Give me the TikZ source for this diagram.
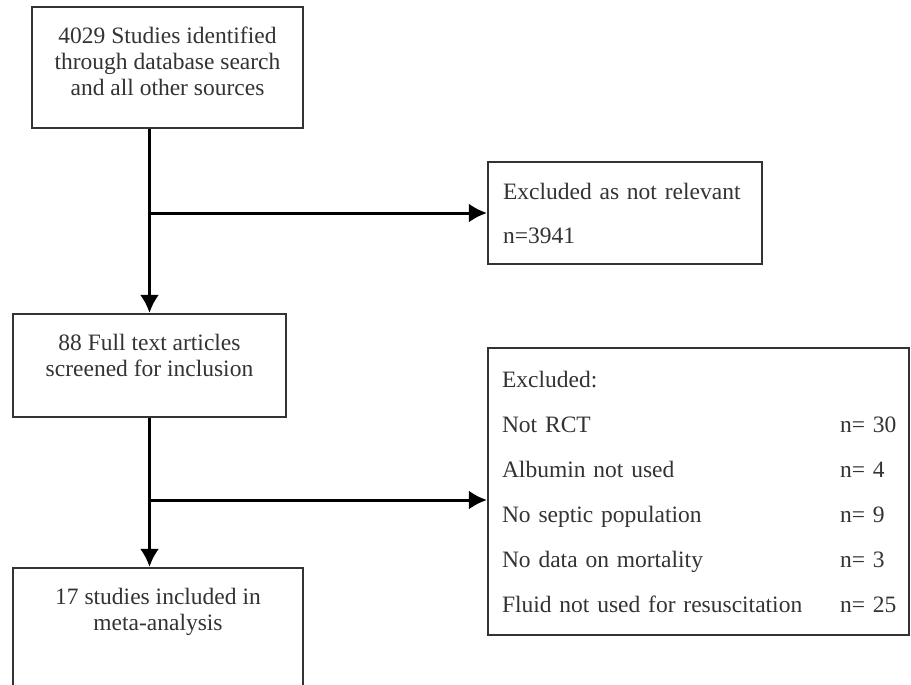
\documentclass[tikz,border=0pt]{standalone}
\usepackage{fontspec}
\setmainfont{Liberation Serif}
\usetikzlibrary{positioning,arrows.meta}

\begin{document}
\begin{tikzpicture}[x=1pt,y=-1pt,
    box/.style={draw=black!80, line width=2.2pt, fill=white, inner sep=0pt},
    txt/.style={text=black!80, font=\fontsize{23.5}{26}\selectfont, align=center, inner sep=0pt},
    flow/.style={line width=3pt, -{Latex[length=18pt,width=19pt]}}]
    \useasboundingbox (0,0) rectangle (911,685);

    % left column
    \node[box, minimum width=271pt, minimum height=121pt] (search) at (167.5,67.5) {};
    \node[txt, below=21pt of search.north] (searchtxt) {4029 Studies identified\\through database search\\and all other sources};
    \node[box, minimum width=273pt, minimum height=103pt] (screen) at (149.5,365.5) {};
    \node[txt, below=21pt of screen.north] (screentxt) {88 Full text articles\\screened for inclusion};
    \node[box, minimum width=290pt, minimum height=132pt] (incl) at (158,634) {};
    \node[txt, below=21pt of incl.north] (incltxt) {17 studies included in\\meta-analysis};

    % right column
    \node[box, txt, minimum height=102pt, text width=244pt, inner xsep=15pt, align=left] (notrel) at (625,213)
        {Excluded as not relevant\\[18pt]n=3941};
    \node[box, txt, minimum height=287pt, text width=393pt, inner xsep=14pt, align=left] (reasons) at (698.5,491.5)
        {Excluded:\\[19pt]
         Not RCT\hfill\makebox[55pt][l]{n= 30}\\[19pt]
         Albumin not used\hfill\makebox[55pt][l]{n= 4}\\[19pt]
         No septic population\hfill\makebox[55pt][l]{n= 9}\\[19pt]
         No data on mortality\hfill\makebox[55pt][l]{n= 3}\\[19pt]
         Fluid not used for resuscitation\hfill\makebox[55pt][l]{n= 25}};

    % connectors
    \coordinate (split1) at (screen.north |- notrel.west);
    \coordinate (split2) at (150,500);
    \draw[flow] (search.south -| screen.north) -- (screen.north);
    \draw[flow] (split1) -- (notrel.west);
    \draw[flow] (screen.south) -- (screen.south |- incl.north);
    \draw[flow] (split2) -- (split2 -| reasons.west);
\end{tikzpicture}
\end{document}
